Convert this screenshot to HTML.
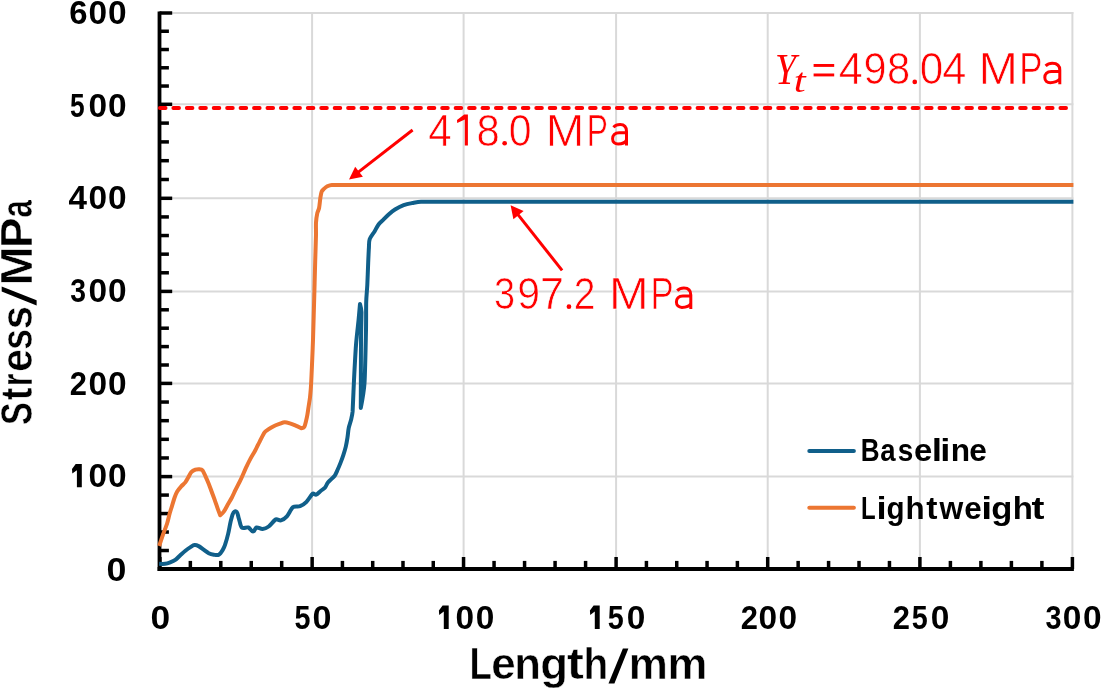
<!DOCTYPE html>
<html><head><meta charset="utf-8"><style>
html,body{margin:0;padding:0;background:#fff;}
body{width:1102px;height:691px;overflow:hidden;font-family:"Liberation Sans",sans-serif;}
svg{display:block;will-change:transform;}
</style></head><body>
<svg width="1102" height="691" viewBox="0 0 1102 691">
<rect width="1102" height="691" fill="#fff"/>
<line x1="159.9" y1="476.6" x2="1073.4" y2="476.6" stroke="#d9d9d9" stroke-width="2"/>
<line x1="159.9" y1="383.4" x2="1073.4" y2="383.4" stroke="#d9d9d9" stroke-width="2"/>
<line x1="159.9" y1="291.4" x2="1073.4" y2="291.4" stroke="#d9d9d9" stroke-width="2"/>
<line x1="159.9" y1="198.3" x2="1073.4" y2="198.3" stroke="#d9d9d9" stroke-width="2"/>
<line x1="159.9" y1="104.3" x2="1073.4" y2="104.3" stroke="#d9d9d9" stroke-width="2"/>
<line x1="159.9" y1="13.0" x2="1073.4" y2="13.0" stroke="#d9d9d9" stroke-width="2"/>
<line x1="312.1" y1="12.0" x2="312.1" y2="569.0" stroke="#d9d9d9" stroke-width="2"/>
<line x1="463.6" y1="12.0" x2="463.6" y2="569.0" stroke="#d9d9d9" stroke-width="2"/>
<line x1="616.1" y1="12.0" x2="616.1" y2="569.0" stroke="#d9d9d9" stroke-width="2"/>
<line x1="767.7" y1="12.0" x2="767.7" y2="569.0" stroke="#d9d9d9" stroke-width="2"/>
<line x1="919.9" y1="12.0" x2="919.9" y2="569.0" stroke="#d9d9d9" stroke-width="2"/>
<line x1="1072.4" y1="12.0" x2="1072.4" y2="569.0" stroke="#d9d9d9" stroke-width="2"/>
<line x1="159.5" y1="569.00" x2="172.2" y2="569.00" stroke="#000000" stroke-width="3.5"/>
<line x1="159.5" y1="550.52" x2="168.9" y2="550.52" stroke="#000000" stroke-width="3.5"/>
<line x1="159.5" y1="532.04" x2="168.9" y2="532.04" stroke="#000000" stroke-width="3.5"/>
<line x1="159.5" y1="513.56" x2="168.9" y2="513.56" stroke="#000000" stroke-width="3.5"/>
<line x1="159.5" y1="495.08" x2="168.9" y2="495.08" stroke="#000000" stroke-width="3.5"/>
<line x1="159.5" y1="476.60" x2="172.2" y2="476.60" stroke="#000000" stroke-width="3.5"/>
<line x1="159.5" y1="457.96" x2="168.9" y2="457.96" stroke="#000000" stroke-width="3.5"/>
<line x1="159.5" y1="439.32" x2="168.9" y2="439.32" stroke="#000000" stroke-width="3.5"/>
<line x1="159.5" y1="420.68" x2="168.9" y2="420.68" stroke="#000000" stroke-width="3.5"/>
<line x1="159.5" y1="402.04" x2="168.9" y2="402.04" stroke="#000000" stroke-width="3.5"/>
<line x1="159.5" y1="383.40" x2="172.2" y2="383.40" stroke="#000000" stroke-width="3.5"/>
<line x1="159.5" y1="365.00" x2="168.9" y2="365.00" stroke="#000000" stroke-width="3.5"/>
<line x1="159.5" y1="346.60" x2="168.9" y2="346.60" stroke="#000000" stroke-width="3.5"/>
<line x1="159.5" y1="328.20" x2="168.9" y2="328.20" stroke="#000000" stroke-width="3.5"/>
<line x1="159.5" y1="309.80" x2="168.9" y2="309.80" stroke="#000000" stroke-width="3.5"/>
<line x1="159.5" y1="291.40" x2="172.2" y2="291.40" stroke="#000000" stroke-width="3.5"/>
<line x1="159.5" y1="272.78" x2="168.9" y2="272.78" stroke="#000000" stroke-width="3.5"/>
<line x1="159.5" y1="254.16" x2="168.9" y2="254.16" stroke="#000000" stroke-width="3.5"/>
<line x1="159.5" y1="235.54" x2="168.9" y2="235.54" stroke="#000000" stroke-width="3.5"/>
<line x1="159.5" y1="216.92" x2="168.9" y2="216.92" stroke="#000000" stroke-width="3.5"/>
<line x1="159.5" y1="198.30" x2="172.2" y2="198.30" stroke="#000000" stroke-width="3.5"/>
<line x1="159.5" y1="179.50" x2="168.9" y2="179.50" stroke="#000000" stroke-width="3.5"/>
<line x1="159.5" y1="160.70" x2="168.9" y2="160.70" stroke="#000000" stroke-width="3.5"/>
<line x1="159.5" y1="141.90" x2="168.9" y2="141.90" stroke="#000000" stroke-width="3.5"/>
<line x1="159.5" y1="123.10" x2="168.9" y2="123.10" stroke="#000000" stroke-width="3.5"/>
<line x1="159.5" y1="104.30" x2="172.2" y2="104.30" stroke="#000000" stroke-width="3.5"/>
<line x1="159.5" y1="86.04" x2="168.9" y2="86.04" stroke="#000000" stroke-width="3.5"/>
<line x1="159.5" y1="67.78" x2="168.9" y2="67.78" stroke="#000000" stroke-width="3.5"/>
<line x1="159.5" y1="49.52" x2="168.9" y2="49.52" stroke="#000000" stroke-width="3.5"/>
<line x1="159.5" y1="31.26" x2="168.9" y2="31.26" stroke="#000000" stroke-width="3.5"/>
<line x1="159.5" y1="13.00" x2="172.2" y2="13.00" stroke="#000000" stroke-width="3.5"/>
<line x1="159.90" y1="569.0" x2="159.90" y2="557.0" stroke="#000000" stroke-width="3.5"/>
<line x1="190.35" y1="569.0" x2="190.35" y2="560.9" stroke="#000000" stroke-width="3.5"/>
<line x1="220.80" y1="569.0" x2="220.80" y2="560.9" stroke="#000000" stroke-width="3.5"/>
<line x1="251.25" y1="569.0" x2="251.25" y2="560.9" stroke="#000000" stroke-width="3.5"/>
<line x1="281.70" y1="569.0" x2="281.70" y2="560.9" stroke="#000000" stroke-width="3.5"/>
<line x1="312.15" y1="569.0" x2="312.15" y2="557.0" stroke="#000000" stroke-width="3.5"/>
<line x1="342.43" y1="569.0" x2="342.43" y2="560.9" stroke="#000000" stroke-width="3.5"/>
<line x1="372.71" y1="569.0" x2="372.71" y2="560.9" stroke="#000000" stroke-width="3.5"/>
<line x1="402.99" y1="569.0" x2="402.99" y2="560.9" stroke="#000000" stroke-width="3.5"/>
<line x1="433.27" y1="569.0" x2="433.27" y2="560.9" stroke="#000000" stroke-width="3.5"/>
<line x1="463.55" y1="569.0" x2="463.55" y2="557.0" stroke="#000000" stroke-width="3.5"/>
<line x1="494.06" y1="569.0" x2="494.06" y2="560.9" stroke="#000000" stroke-width="3.5"/>
<line x1="524.57" y1="569.0" x2="524.57" y2="560.9" stroke="#000000" stroke-width="3.5"/>
<line x1="555.08" y1="569.0" x2="555.08" y2="560.9" stroke="#000000" stroke-width="3.5"/>
<line x1="585.59" y1="569.0" x2="585.59" y2="560.9" stroke="#000000" stroke-width="3.5"/>
<line x1="616.10" y1="569.0" x2="616.10" y2="557.0" stroke="#000000" stroke-width="3.5"/>
<line x1="646.42" y1="569.0" x2="646.42" y2="560.9" stroke="#000000" stroke-width="3.5"/>
<line x1="676.74" y1="569.0" x2="676.74" y2="560.9" stroke="#000000" stroke-width="3.5"/>
<line x1="707.06" y1="569.0" x2="707.06" y2="560.9" stroke="#000000" stroke-width="3.5"/>
<line x1="737.38" y1="569.0" x2="737.38" y2="560.9" stroke="#000000" stroke-width="3.5"/>
<line x1="767.70" y1="569.0" x2="767.70" y2="557.0" stroke="#000000" stroke-width="3.5"/>
<line x1="798.14" y1="569.0" x2="798.14" y2="560.9" stroke="#000000" stroke-width="3.5"/>
<line x1="828.58" y1="569.0" x2="828.58" y2="560.9" stroke="#000000" stroke-width="3.5"/>
<line x1="859.02" y1="569.0" x2="859.02" y2="560.9" stroke="#000000" stroke-width="3.5"/>
<line x1="889.46" y1="569.0" x2="889.46" y2="560.9" stroke="#000000" stroke-width="3.5"/>
<line x1="919.90" y1="569.0" x2="919.90" y2="557.0" stroke="#000000" stroke-width="3.5"/>
<line x1="950.40" y1="569.0" x2="950.40" y2="560.9" stroke="#000000" stroke-width="3.5"/>
<line x1="980.90" y1="569.0" x2="980.90" y2="560.9" stroke="#000000" stroke-width="3.5"/>
<line x1="1011.40" y1="569.0" x2="1011.40" y2="560.9" stroke="#000000" stroke-width="3.5"/>
<line x1="1041.90" y1="569.0" x2="1041.90" y2="560.9" stroke="#000000" stroke-width="3.5"/>
<line x1="1072.40" y1="569.0" x2="1072.40" y2="557.0" stroke="#000000" stroke-width="3.5"/>
<line x1="159.5" y1="11.5" x2="159.5" y2="570.9" stroke="#000000" stroke-width="3.8"/>
<line x1="157.6" y1="569.0" x2="1073.9" y2="569.0" stroke="#000000" stroke-width="3.8"/>
<path d="M159.10,563.80 C159.10,563.80 163.34,564.04 165.10,563.80 C166.86,563.56 168.55,562.95 170.20,562.30 C171.85,561.65 173.75,560.89 175.30,559.80 C176.85,558.71 178.62,556.72 180.30,555.20 C181.98,553.68 183.77,551.99 185.40,550.70 C187.03,549.41 189.23,547.88 190.50,547.10 C191.77,546.32 193.10,545.27 194.50,545.10 C195.90,544.93 197.34,545.48 198.60,546.10 C199.86,546.72 201.94,548.43 203.60,549.60 C205.26,550.77 207.12,552.41 208.70,553.20 C210.28,553.99 212.15,554.46 213.80,554.70 C215.45,554.94 217.35,555.51 218.80,554.70 C220.25,553.89 221.95,551.11 222.90,549.60 C223.85,548.09 224.54,546.40 225.10,544.70 C225.66,543.00 227.30,537.33 228.20,533.60 C229.10,529.87 230.28,522.28 231.20,519.40 C232.12,516.52 232.68,511.64 235.30,511.30 C237.92,510.96 237.82,515.95 238.80,518.40 C239.78,520.85 240.20,525.99 241.80,527.50 C243.40,529.01 246.49,526.82 248.40,527.50 C250.31,528.18 251.23,531.50 253.00,531.50 C254.77,531.50 254.79,527.95 256.50,527.50 C258.21,527.05 260.51,529.17 262.60,529.00 C264.69,528.83 266.92,527.79 268.70,526.50 C270.48,525.21 274.25,520.17 275.80,519.40 C277.35,518.63 279.23,520.87 280.90,520.40 C282.57,519.93 285.26,518.09 286.90,516.30 C288.54,514.51 291.10,508.65 293.00,507.20 C294.90,505.75 297.87,507.06 300.10,506.20 C302.33,505.34 304.47,503.83 306.20,502.10 C307.93,500.37 311.72,494.33 312.70,493.60 C313.68,492.87 315.05,495.11 316.20,494.70 C317.35,494.29 319.61,491.72 320.90,490.70 C322.19,489.68 323.83,489.05 324.90,487.80 C325.97,486.55 326.82,483.93 327.80,482.60 C328.78,481.27 330.13,480.27 331.30,479.10 C332.47,477.93 333.87,476.97 334.80,475.60 C335.73,474.23 336.72,471.76 337.60,469.80 C338.48,467.84 339.60,465.23 340.50,462.90 C341.40,460.57 342.52,457.51 343.40,454.80 C344.28,452.09 345.15,449.37 345.80,446.60 C346.45,443.83 347.02,440.48 347.50,437.40 C347.98,434.32 348.15,430.85 348.70,428.10 C349.25,425.35 350.35,422.73 351.00,420.00 C351.65,417.27 352.39,414.51 352.60,411.70 C352.81,408.89 353.46,390.56 354.00,380.00 C354.54,369.44 355.36,353.45 356.00,345.00 C356.64,336.55 358.09,324.93 358.60,319.70 C359.11,314.47 360.00,304.00 360.00,304.00 C360.00,304.00 361.42,309.29 361.50,312.00 C361.58,314.71 361.07,330.67 361.00,340.00 C360.93,349.33 360.80,408.00 360.80,408.00 C360.80,408.00 363.94,391.41 364.50,383.00 C365.06,374.59 365.80,339.33 366.00,330.00 C366.20,320.67 366.04,307.68 366.20,302.00 C366.36,296.32 367.01,290.67 367.30,285.00 C367.59,279.33 367.99,267.23 368.20,262.40 C368.41,257.57 368.71,250.81 368.90,247.90 C369.09,244.99 368.74,241.95 369.70,239.20 C370.66,236.45 373.42,233.34 374.70,231.20 C375.98,229.06 376.98,226.58 378.40,224.70 C379.82,222.82 381.73,221.37 383.40,219.70 C385.07,218.03 387.38,215.50 389.20,213.90 C391.02,212.30 392.92,210.75 395.00,209.50 C397.08,208.25 400.90,206.25 403.70,205.20 C406.50,204.15 409.56,203.57 412.40,203.00 C415.24,202.43 418.10,201.71 421.00,201.70 C423.90,201.69 1073.40,201.70 1073.40,201.70" fill="none" stroke="#105f8a" stroke-width="4" stroke-linejoin="round" stroke-linecap="butt"/>
<path d="M159.20,546.00 C159.20,546.00 161.82,538.05 163.10,534.40 C164.38,530.75 166.10,526.68 167.10,523.50 C168.10,520.32 168.84,516.52 169.60,513.80 C170.36,511.08 171.27,508.40 172.10,505.70 C172.93,503.00 173.86,499.55 174.60,497.50 C175.34,495.45 176.10,493.36 177.20,491.50 C178.30,489.64 179.93,487.83 181.20,486.40 C182.47,484.97 184.13,483.91 185.30,482.40 C186.47,480.89 187.30,479.00 188.30,477.30 C189.30,475.60 190.21,473.37 191.30,472.20 C192.39,471.03 194.14,470.17 195.40,469.70 C196.66,469.23 198.32,469.12 199.40,469.20 C200.48,469.28 201.79,469.38 202.50,470.20 C203.21,471.02 204.55,474.24 205.50,476.30 C206.45,478.36 207.64,481.00 208.60,483.40 C209.56,485.80 210.60,488.80 211.60,491.50 C212.60,494.20 213.64,496.89 214.60,499.60 C215.56,502.31 216.91,506.48 217.70,508.70 C218.49,510.92 220.20,515.30 220.20,515.30 C220.20,515.30 222.82,513.08 223.80,511.70 C224.78,510.32 226.45,506.96 227.80,504.60 C229.15,502.24 230.63,499.92 231.90,497.50 C233.17,495.08 234.27,492.42 235.50,489.90 C236.73,487.38 239.68,481.73 241.30,478.30 C242.92,474.87 244.44,471.03 245.90,467.90 C247.36,464.77 249.03,461.35 250.50,458.60 C251.97,455.85 253.72,453.25 255.20,450.50 C256.68,447.75 258.30,444.22 259.80,441.30 C261.30,438.38 263.53,433.84 264.40,432.60 C265.27,431.36 266.65,430.56 267.90,429.70 C269.15,428.84 271.84,427.13 273.70,426.20 C275.56,425.27 277.79,424.52 279.50,423.90 C281.21,423.28 282.93,422.30 284.70,422.20 C286.47,422.10 288.21,422.78 289.90,423.30 C291.59,423.82 293.81,424.79 295.70,425.60 C297.59,426.41 301.30,428.20 301.30,428.20 C301.30,428.20 303.71,427.81 304.30,426.90 C304.89,425.99 305.59,422.81 306.10,420.80 C306.61,418.79 307.04,416.75 307.40,414.70 C307.76,412.65 308.27,408.87 308.70,406.00 C309.13,403.13 309.65,400.28 310.00,397.40 C310.35,394.52 310.58,391.60 310.80,388.70 C311.02,385.80 311.16,382.90 311.30,380.00 C311.44,377.10 311.92,366.67 312.20,360.00 C312.48,353.33 312.78,346.67 313.00,340.00 C313.22,333.33 313.98,306.33 314.30,295.00 C314.62,283.67 314.95,269.67 315.20,261.00 C315.45,252.33 315.91,239.10 316.00,235.00 C316.09,230.90 315.81,225.89 316.00,222.70 C316.19,219.51 316.92,214.99 317.30,213.20 C317.68,211.41 318.74,209.80 319.10,208.00 C319.46,206.20 320.08,199.65 320.40,197.60 C320.72,195.55 321.28,192.55 321.70,191.50 C322.12,190.45 323.07,189.67 323.90,188.90 C324.73,188.13 326.03,186.95 327.30,186.30 C328.57,185.65 330.16,184.90 331.70,184.90 C333.24,184.90 1073.40,184.90 1073.40,184.90" fill="none" stroke="#ec7632" stroke-width="4" stroke-linejoin="round" stroke-linecap="butt"/>
<line x1="159.9" y1="108.0" x2="1066.5" y2="108.0" stroke="#ff0000" stroke-width="3.8" stroke-linecap="round" stroke-dasharray="5.7 7.74"/>
<text transform="translate(69.20,24.30) scale(0.9848,1)" font-family="Liberation Sans" font-weight="bold" font-style="normal" font-size="33.4" fill="#000000">6</text>
<text transform="translate(88.48,24.30) scale(1.0010,1)" font-family="Liberation Sans" font-weight="bold" font-style="normal" font-size="33.4" fill="#000000">0</text>
<text transform="translate(108.08,24.30) scale(1.0010,1)" font-family="Liberation Sans" font-weight="bold" font-style="normal" font-size="33.4" fill="#000000">0</text>
<text transform="translate(70.09,116.70) scale(0.7883,1)" font-family="Liberation Sans" font-weight="bold" font-style="normal" font-size="33.4" fill="#000000">5</text>
<text transform="translate(88.48,116.70) scale(1.0010,1)" font-family="Liberation Sans" font-weight="bold" font-style="normal" font-size="33.4" fill="#000000">0</text>
<text transform="translate(108.08,116.70) scale(1.0010,1)" font-family="Liberation Sans" font-weight="bold" font-style="normal" font-size="33.4" fill="#000000">0</text>
<text transform="translate(68.60,208.80) scale(0.9949,1)" font-family="Liberation Sans" font-weight="bold" font-style="normal" font-size="33.4" fill="#000000">4</text>
<text transform="translate(88.48,208.80) scale(1.0010,1)" font-family="Liberation Sans" font-weight="bold" font-style="normal" font-size="33.4" fill="#000000">0</text>
<text transform="translate(108.08,208.80) scale(1.0010,1)" font-family="Liberation Sans" font-weight="bold" font-style="normal" font-size="33.4" fill="#000000">0</text>
<text transform="translate(70.25,301.90) scale(0.8493,1)" font-family="Liberation Sans" font-weight="bold" font-style="normal" font-size="33.4" fill="#000000">3</text>
<text transform="translate(88.48,301.90) scale(1.0010,1)" font-family="Liberation Sans" font-weight="bold" font-style="normal" font-size="33.4" fill="#000000">0</text>
<text transform="translate(108.08,301.90) scale(1.0010,1)" font-family="Liberation Sans" font-weight="bold" font-style="normal" font-size="33.4" fill="#000000">0</text>
<text transform="translate(69.83,395.40) scale(0.9266,1)" font-family="Liberation Sans" font-weight="bold" font-style="normal" font-size="33.4" fill="#000000">2</text>
<text transform="translate(88.48,395.40) scale(1.0010,1)" font-family="Liberation Sans" font-weight="bold" font-style="normal" font-size="33.4" fill="#000000">0</text>
<text transform="translate(108.08,395.40) scale(1.0010,1)" font-family="Liberation Sans" font-weight="bold" font-style="normal" font-size="33.4" fill="#000000">0</text>
<path d="M81.80,464.00 L81.80,487.20 L76.90,487.20 L76.90,470.20 L72.30,473.60 L72.00,469.00 L75.70,464.00 Z" fill="#000000"/>
<text transform="translate(88.48,487.00) scale(1.0010,1)" font-family="Liberation Sans" font-weight="bold" font-style="normal" font-size="33.4" fill="#000000">0</text>
<text transform="translate(108.08,487.00) scale(1.0010,1)" font-family="Liberation Sans" font-weight="bold" font-style="normal" font-size="33.4" fill="#000000">0</text>
<text transform="translate(106.49,580.80) scale(1.0702,1)" font-family="Liberation Sans" font-weight="bold" font-style="normal" font-size="33.4" fill="#000000">0</text>
<text transform="translate(150.40,628.70) scale(1.0576,1)" font-family="Liberation Sans" font-weight="bold" font-style="normal" font-size="33.4" fill="#000000">0</text>
<text transform="translate(294.42,628.70) scale(0.8605,1)" font-family="Liberation Sans" font-weight="bold" font-style="normal" font-size="33.4" fill="#000000">5</text>
<text transform="translate(312.55,628.70) scale(1.0199,1)" font-family="Liberation Sans" font-weight="bold" font-style="normal" font-size="33.4" fill="#000000">0</text>
<path d="M448.70,605.40 L448.70,628.90 L443.80,628.90 L443.80,611.60 L439.20,615.00 L438.90,610.40 L442.60,605.40 Z" fill="#000000"/>
<text transform="translate(455.58,628.70) scale(1.0010,1)" font-family="Liberation Sans" font-weight="bold" font-style="normal" font-size="33.4" fill="#000000">0</text>
<text transform="translate(475.68,628.70) scale(1.0010,1)" font-family="Liberation Sans" font-weight="bold" font-style="normal" font-size="33.4" fill="#000000">0</text>
<path d="M599.70,605.40 L599.70,628.90 L594.80,628.90 L594.80,611.60 L590.20,615.00 L589.90,610.40 L593.60,605.40 Z" fill="#000000"/>
<text transform="translate(607.82,628.70) scale(0.8605,1)" font-family="Liberation Sans" font-weight="bold" font-style="normal" font-size="33.4" fill="#000000">5</text>
<text transform="translate(626.68,628.70) scale(1.0010,1)" font-family="Liberation Sans" font-weight="bold" font-style="normal" font-size="33.4" fill="#000000">0</text>
<text transform="translate(740.73,628.70) scale(0.9266,1)" font-family="Liberation Sans" font-weight="bold" font-style="normal" font-size="33.4" fill="#000000">2</text>
<text transform="translate(758.48,628.70) scale(1.0010,1)" font-family="Liberation Sans" font-weight="bold" font-style="normal" font-size="33.4" fill="#000000">0</text>
<text transform="translate(778.58,628.70) scale(1.0010,1)" font-family="Liberation Sans" font-weight="bold" font-style="normal" font-size="33.4" fill="#000000">0</text>
<text transform="translate(892.83,628.70) scale(0.9266,1)" font-family="Liberation Sans" font-weight="bold" font-style="normal" font-size="33.4" fill="#000000">2</text>
<text transform="translate(911.82,628.70) scale(0.8605,1)" font-family="Liberation Sans" font-weight="bold" font-style="normal" font-size="33.4" fill="#000000">5</text>
<text transform="translate(930.68,628.70) scale(1.0010,1)" font-family="Liberation Sans" font-weight="bold" font-style="normal" font-size="33.4" fill="#000000">0</text>
<text transform="translate(1045.44,628.70) scale(0.8613,1)" font-family="Liberation Sans" font-weight="bold" font-style="normal" font-size="33.4" fill="#000000">3</text>
<text transform="translate(1062.78,628.70) scale(1.0010,1)" font-family="Liberation Sans" font-weight="bold" font-style="normal" font-size="33.4" fill="#000000">0</text>
<text transform="translate(1082.88,628.70) scale(1.0010,1)" font-family="Liberation Sans" font-weight="bold" font-style="normal" font-size="33.4" fill="#000000">0</text>
<text transform="translate(469.40,679.15) scale(0.8135,1)" font-family="Liberation Sans" font-weight="bold" font-style="normal" font-size="45.03" fill="#000000" stroke="#fff" stroke-width="0.50">L</text>
<text transform="translate(491.34,679.15) scale(0.9749,1)" font-family="Liberation Sans" font-weight="bold" font-style="normal" font-size="45.03" fill="#000000" stroke="#fff" stroke-width="0.50">e</text>
<text transform="translate(514.37,679.15) scale(0.9703,1)" font-family="Liberation Sans" font-weight="bold" font-style="normal" font-size="45.03" fill="#000000" stroke="#fff" stroke-width="0.50">n</text>
<text transform="translate(540.18,679.15) scale(1.0112,1)" font-family="Liberation Sans" font-weight="bold" font-style="normal" font-size="45.03" fill="#000000" stroke="#fff" stroke-width="0.50">g</text>
<text transform="translate(566.72,679.15) scale(1.1442,1)" font-family="Liberation Sans" font-weight="bold" font-style="normal" font-size="45.03" fill="#000000" stroke="#fff" stroke-width="0.50">t</text>
<text transform="translate(583.42,679.15) scale(0.8994,1)" font-family="Liberation Sans" font-weight="bold" font-style="normal" font-size="45.03" fill="#000000" stroke="#fff" stroke-width="0.50">h</text>
<text transform="translate(628.75,679.15) scale(0.9773,1)" font-family="Liberation Sans" font-weight="bold" font-style="normal" font-size="45.03" fill="#000000" stroke="#fff" stroke-width="0.50">m</text>
<text transform="translate(667.59,679.15) scale(0.9977,1)" font-family="Liberation Sans" font-weight="bold" font-style="normal" font-size="45.03" fill="#000000" stroke="#fff" stroke-width="0.50">m</text>
<polygon points="608.5,683.5 614.4,683.5 628.4,648.5 622.9,648.5" fill="#000000"/>
<g transform="translate(31.9,0) rotate(-90)">
<polygon points="-305.5,4.7 -300.3,4.7 -286.6,-30.2 -291.6,-30.2" fill="#000000"/>
<text transform="translate(-425.04,0.25) scale(0.7684,1)" font-family="Liberation Sans" font-weight="bold" font-style="normal" font-size="44.53" fill="#000000" stroke="#fff" stroke-width="0.50">S</text>
<text transform="translate(-400.22,0.25) scale(0.8587,1)" font-family="Liberation Sans" font-weight="bold" font-style="normal" font-size="44.53" fill="#000000" stroke="#fff" stroke-width="0.50">t</text>
<text transform="translate(-386.19,0.25) scale(0.7289,1)" font-family="Liberation Sans" font-weight="bold" font-style="normal" font-size="44.53" fill="#000000" stroke="#fff" stroke-width="0.50">r</text>
<text transform="translate(-371.84,0.25) scale(0.9161,1)" font-family="Liberation Sans" font-weight="bold" font-style="normal" font-size="44.53" fill="#000000" stroke="#fff" stroke-width="0.50">e</text>
<text transform="translate(-349.76,0.25) scale(0.8375,1)" font-family="Liberation Sans" font-weight="bold" font-style="normal" font-size="44.53" fill="#000000" stroke="#fff" stroke-width="0.50">s</text>
<text transform="translate(-329.32,0.25) scale(0.9404,1)" font-family="Liberation Sans" font-weight="bold" font-style="normal" font-size="44.53" fill="#000000" stroke="#fff" stroke-width="0.50">s</text>
<text transform="translate(-285.61,0.25) scale(1.0599,1)" font-family="Liberation Sans" font-weight="bold" font-style="normal" font-size="44.53" fill="#000000" stroke="#fff" stroke-width="0.50">M</text>
<text transform="translate(-248.01,0.25) scale(1.0278,1)" font-family="Liberation Sans" font-weight="bold" font-style="normal" font-size="44.53" fill="#000000" stroke="#fff" stroke-width="0.50">P</text>
<text transform="translate(-217.47,0.25) scale(0.7033,1)" font-family="Liberation Sans" font-weight="bold" font-style="normal" font-size="44.53" fill="#000000" stroke="#fff" stroke-width="0.50">a</text>
</g>
<line x1="809.3" y1="450.9" x2="853.9" y2="450.9" stroke="#105f8a" stroke-width="4" stroke-linecap="round"/>
<line x1="809.3" y1="507.7" x2="853.9" y2="507.7" stroke="#ec7632" stroke-width="4" stroke-linecap="round"/>
<text transform="translate(860.86,461.10) scale(0.8250,1)" font-family="Liberation Sans" font-weight="bold" font-style="normal" font-size="31.6" fill="#000000">B</text>
<text transform="translate(880.19,461.10) scale(0.8724,1)" font-family="Liberation Sans" font-weight="bold" font-style="normal" font-size="31.6" fill="#000000">a</text>
<text transform="translate(897.82,461.10) scale(0.8835,1)" font-family="Liberation Sans" font-weight="bold" font-style="normal" font-size="31.6" fill="#000000">s</text>
<text transform="translate(914.01,461.10) scale(1.0419,1)" font-family="Liberation Sans" font-weight="bold" font-style="normal" font-size="31.6" fill="#000000">e</text>
<text transform="translate(931.80,461.10) scale(1.1763,1)" font-family="Liberation Sans" font-weight="bold" font-style="normal" font-size="31.6" fill="#000000">l</text>
<text transform="translate(940.16,461.10) scale(1.1532,1)" font-family="Liberation Sans" font-weight="bold" font-style="normal" font-size="31.6" fill="#000000">i</text>
<text transform="translate(950.71,461.10) scale(1.0026,1)" font-family="Liberation Sans" font-weight="bold" font-style="normal" font-size="31.6" fill="#000000">n</text>
<text transform="translate(969.36,461.10) scale(1.0026,1)" font-family="Liberation Sans" font-weight="bold" font-style="normal" font-size="31.6" fill="#000000">e</text>
<text transform="translate(861.10,518.50) scale(0.7585,1)" font-family="Liberation Sans" font-weight="bold" font-style="normal" font-size="31.6" fill="#000000">L</text>
<text transform="translate(876.46,518.50) scale(1.1532,1)" font-family="Liberation Sans" font-weight="bold" font-style="normal" font-size="31.6" fill="#000000">i</text>
<text transform="translate(886.48,518.50) scale(0.9375,1)" font-family="Liberation Sans" font-weight="bold" font-style="normal" font-size="31.6" fill="#000000">g</text>
<text transform="translate(905.41,518.50) scale(0.9910,1)" font-family="Liberation Sans" font-weight="bold" font-style="normal" font-size="31.6" fill="#000000">h</text>
<text transform="translate(926.29,518.50) scale(1.0665,1)" font-family="Liberation Sans" font-weight="bold" font-style="normal" font-size="31.6" fill="#000000">t</text>
<text transform="translate(939.49,518.50) scale(0.9663,1)" font-family="Liberation Sans" font-weight="bold" font-style="normal" font-size="31.6" fill="#000000">w</text>
<text transform="translate(964.27,518.50) scale(0.9961,1)" font-family="Liberation Sans" font-weight="bold" font-style="normal" font-size="31.6" fill="#000000">e</text>
<text transform="translate(981.25,518.50) scale(1.2455,1)" font-family="Liberation Sans" font-weight="bold" font-style="normal" font-size="31.6" fill="#000000">i</text>
<text transform="translate(991.28,518.50) scale(1.0949,1)" font-family="Liberation Sans" font-weight="bold" font-style="normal" font-size="31.6" fill="#000000">g</text>
<text transform="translate(1012.70,518.50) scale(1.0438,1)" font-family="Liberation Sans" font-weight="bold" font-style="normal" font-size="31.6" fill="#000000">h</text>
<text transform="translate(1031.43,518.50) scale(1.2306,1)" font-family="Liberation Sans" font-weight="bold" font-style="normal" font-size="31.6" fill="#000000">t</text>
<text transform="translate(428.33,145.50) scale(0.9349,1)" font-family="Liberation Sans" font-weight="normal" font-style="normal" font-size="45" fill="#ff0000" stroke="#fff" stroke-width="0.7">4</text>
<path d="M467.90,114.50 L467.90,145.50 L464.80,145.50 L464.80,119.50 L457.20,123.10 L457.00,120.10 L464.20,114.50 Z" fill="#ff0000"/>
<text transform="translate(476.48,145.50) scale(0.9282,1)" font-family="Liberation Sans" font-weight="normal" font-style="normal" font-size="45" fill="#ff0000" stroke="#fff" stroke-width="0.7">8</text>
<circle cx="504.65" cy="143.25" r="2.35" fill="#ff0000"/>
<text transform="translate(508.80,145.50) scale(0.9112,1)" font-family="Liberation Sans" font-weight="normal" font-style="normal" font-size="45" fill="#ff0000" stroke="#fff" stroke-width="0.7">0</text>
<text transform="translate(545.80,145.50) scale(1.0298,1)" font-family="Liberation Sans" font-weight="normal" font-style="normal" font-size="45" fill="#ff0000" stroke="#fff" stroke-width="0.7">M</text>
<text transform="translate(586.70,145.50) scale(0.7056,1)" font-family="Liberation Sans" font-weight="normal" font-style="normal" font-size="45" fill="#ff0000" stroke="#fff" stroke-width="0.7">P</text>
<path d="M613.40,127.20 C615.60,125.00 617.60,124.50 620.10,124.50 C624.60,124.50 626.50,126.50 626.50,131.50 L626.50,145.50 M626.50,132.70 L619.10,132.70 C614.60,132.70 612.60,135.50 612.60,138.70 C612.60,142.00 614.90,144.00 618.10,144.00 C621.60,144.00 625.30,142.50 626.50,140.00" fill="none" stroke="#ff0000" stroke-width="3.0"/>
<text transform="translate(493.95,308.90) scale(0.8437,1)" font-family="Liberation Sans" font-weight="normal" font-style="normal" font-size="45" fill="#ff0000" stroke="#fff" stroke-width="0.7">3</text>
<text transform="translate(517.18,308.90) scale(0.9093,1)" font-family="Liberation Sans" font-weight="normal" font-style="normal" font-size="45" fill="#ff0000" stroke="#fff" stroke-width="0.7">9</text>
<text transform="translate(540.09,308.90) scale(0.9581,1)" font-family="Liberation Sans" font-weight="normal" font-style="normal" font-size="45" fill="#ff0000" stroke="#fff" stroke-width="0.7">7</text>
<circle cx="568.95" cy="306.65" r="2.35" fill="#ff0000"/>
<text transform="translate(573.73,308.90) scale(0.8683,1)" font-family="Liberation Sans" font-weight="normal" font-style="normal" font-size="45" fill="#ff0000" stroke="#fff" stroke-width="0.7">2</text>
<text transform="translate(609.09,308.90) scale(1.0597,1)" font-family="Liberation Sans" font-weight="normal" font-style="normal" font-size="45" fill="#ff0000" stroke="#fff" stroke-width="0.7">M</text>
<text transform="translate(650.55,308.90) scale(0.7724,1)" font-family="Liberation Sans" font-weight="normal" font-style="normal" font-size="45" fill="#ff0000" stroke="#fff" stroke-width="0.7">P</text>
<path d="M677.20,290.60 C679.40,288.40 681.40,287.90 683.90,287.90 C688.40,287.90 690.80,289.90 690.80,294.90 L690.80,308.90 M690.80,296.10 L682.90,296.10 C678.40,296.10 676.40,298.90 676.40,302.10 C676.40,305.40 678.70,307.40 681.90,307.40 C685.40,307.40 689.60,305.90 690.80,303.40" fill="none" stroke="#ff0000" stroke-width="3.0"/>
<rect x="813.6" y="64.0" width="20.6" height="2.9" fill="#ff0000"/><rect x="813.6" y="73.5" width="20.6" height="2.9" fill="#ff0000"/>
<text transform="translate(838.71,84.20) scale(0.9614,1)" font-family="Liberation Sans" font-weight="normal" font-style="normal" font-size="45" fill="#ff0000" stroke="#fff" stroke-width="0.7">4</text>
<text transform="translate(863.46,84.20) scale(0.9189,1)" font-family="Liberation Sans" font-weight="normal" font-style="normal" font-size="45" fill="#ff0000" stroke="#fff" stroke-width="0.7">9</text>
<text transform="translate(887.08,84.20) scale(0.9282,1)" font-family="Liberation Sans" font-weight="normal" font-style="normal" font-size="45" fill="#ff0000" stroke="#fff" stroke-width="0.7">8</text>
<circle cx="914.75" cy="81.95" r="2.35" fill="#ff0000"/>
<text transform="translate(919.85,84.20) scale(0.9390,1)" font-family="Liberation Sans" font-weight="normal" font-style="normal" font-size="45" fill="#ff0000" stroke="#fff" stroke-width="0.7">0</text>
<text transform="translate(942.31,84.20) scale(0.9614,1)" font-family="Liberation Sans" font-weight="normal" font-style="normal" font-size="45" fill="#ff0000" stroke="#fff" stroke-width="0.7">4</text>
<text transform="translate(978.42,84.20) scale(1.0497,1)" font-family="Liberation Sans" font-weight="normal" font-style="normal" font-size="45" fill="#ff0000" stroke="#fff" stroke-width="0.7">M</text>
<text transform="translate(1019.25,84.20) scale(0.7724,1)" font-family="Liberation Sans" font-weight="normal" font-style="normal" font-size="45" fill="#ff0000" stroke="#fff" stroke-width="0.7">P</text>
<path d="M1045.60,65.90 C1047.80,63.70 1049.80,63.20 1052.30,63.20 C1056.80,63.20 1059.80,65.20 1059.80,70.20 L1059.80,84.20 M1059.80,71.40 L1051.30,71.40 C1046.80,71.40 1044.80,74.20 1044.80,77.40 C1044.80,80.70 1047.10,82.70 1050.30,82.70 C1053.80,82.70 1058.60,81.20 1059.80,78.70" fill="none" stroke="#ff0000" stroke-width="3.0"/>
<text transform="translate(774.93,83.70) scale(0.8448,1)" font-family="Liberation Serif" font-weight="normal" font-style="italic" font-size="44.9" fill="#ff0000">Y</text>
<text transform="translate(793.71,91.50) scale(1.2552,1)" font-family="Liberation Serif" font-weight="normal" font-style="italic" font-size="34.2" fill="#ff0000">t</text>
<line x1="412.6" y1="130" x2="357.4" y2="172.9" stroke="#ff0000" stroke-width="3"/><polygon points="349,179.5 355.2,166.7 362.9,176.7" fill="#ff0000"/>
<line x1="562.1" y1="270.4" x2="517.2" y2="213.6" stroke="#ff0000" stroke-width="3"/><polygon points="510.6,205.2 523.6,211.1 513.4,219.2" fill="#ff0000"/>
</svg>
</body></html>
